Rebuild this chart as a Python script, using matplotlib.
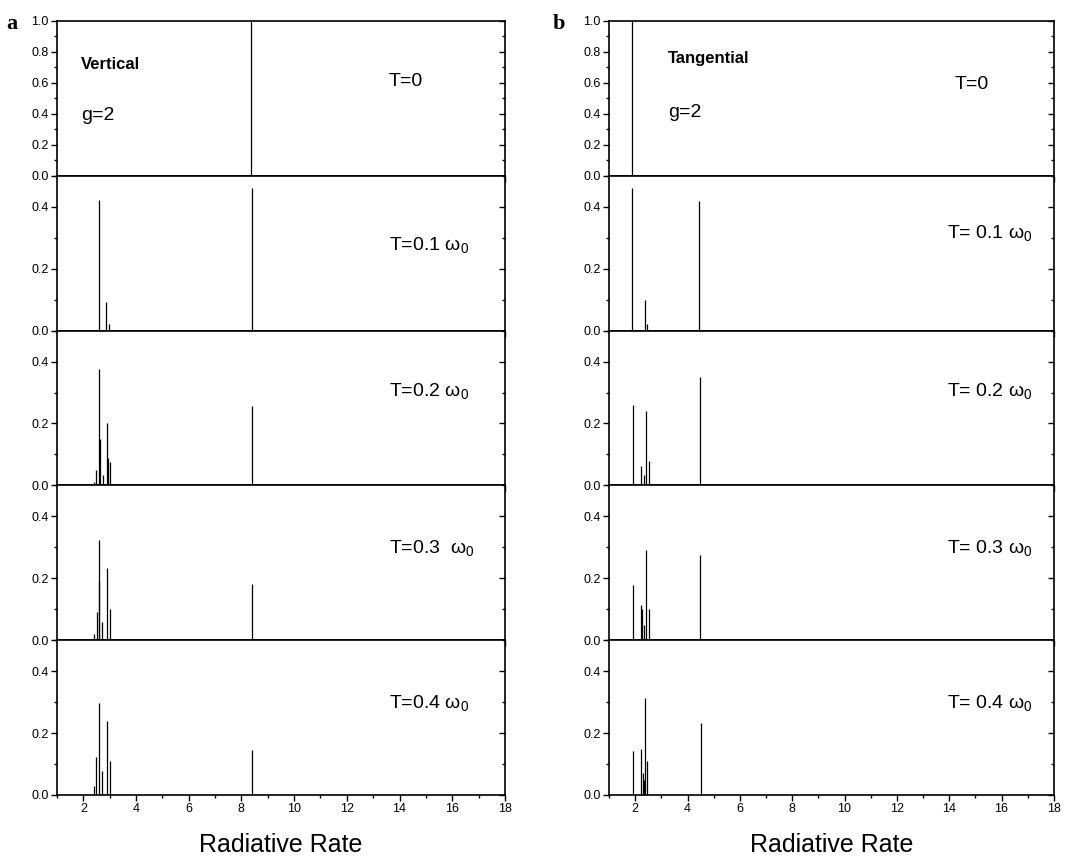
import matplotlib
matplotlib.use("Agg")
import matplotlib.pyplot as plt
from matplotlib.ticker import MultipleLocator

plt.rcParams['font.family'] = ['Liberation Sans', 'DejaVu Sans']
plt.rcParams['mathtext.fontset'] = 'custom'
plt.rcParams['mathtext.rm'] = 'Liberation Sans'
plt.rcParams['mathtext.it'] = 'Liberation Sans'

# temperature labels for each row
temps_left = ['T=0', r'T=0.1 $\omega_0$', r'T=0.2 $\omega_0$', r'T=0.3  $\omega_0$', r'T=0.4 $\omega_0$']
temps_right = ['T=0', r'T= 0.1 $\omega_0$', r'T= 0.2 $\omega_0$', r'T= 0.3 $\omega_0$', r'T= 0.4 $\omega_0$']

# (a) vertical: radiative rate positions and weights
vert_x0 = [8.38]
vert_h0 = [1.0]
vert_x1 = [2.58, 2.87, 2.97, 8.40]
vert_h1 = [0.422, 0.092, 0.02, 0.46]
vert_x2 = [2.41, 2.50, 2.58, 2.62, 2.73, 2.89, 2.93, 3.02, 8.40]
vert_h2 = [0.01, 0.05, 0.375, 0.15, 0.033, 0.203, 0.09, 0.077, 0.255]
vert_x3 = [2.39, 2.51, 2.58, 2.61, 2.70, 2.88, 3.00, 8.42]
vert_h3 = [0.02, 0.09, 0.325, 0.19, 0.06, 0.232, 0.10, 0.18]
vert_x4 = [2.42, 2.50, 2.60, 2.72, 2.88, 3.00, 8.42]
vert_h4 = [0.03, 0.123, 0.296, 0.076, 0.24, 0.109, 0.145]

# (b) tangential
tang_x0 = [1.86]
tang_h0 = [1.0]
tang_x1 = [1.86, 2.36, 2.46, 4.45]
tang_h1 = [0.46, 0.098, 0.02, 0.42]
tang_x2 = [1.90, 2.23, 2.33, 2.42, 2.53, 4.47]
tang_h2 = [0.26, 0.064, 0.032, 0.239, 0.08, 0.35]
tang_x3 = [1.92, 2.22, 2.26, 2.33, 2.42, 2.52, 4.48]
tang_h3 = [0.177, 0.115, 0.10, 0.05, 0.29, 0.10, 0.274]
tang_x4 = [1.93, 2.22, 2.28, 2.32, 2.36, 2.44, 4.50]
tang_h4 = [0.142, 0.15, 0.07, 0.05, 0.313, 0.11, 0.233]

vert_x = [vert_x0, vert_x1, vert_x2, vert_x3, vert_x4]
vert_h = [vert_h0, vert_h1, vert_h2, vert_h3, vert_h4]
tang_x = [tang_x0, tang_x1, tang_x2, tang_x3, tang_x4]
tang_h = [tang_h0, tang_h1, tang_h2, tang_h3, tang_h4]

fig = plt.figure(figsize=(10.85, 8.63), dpi=100)

bottom = 0.0788
top = 0.9757
row_h = (top - bottom) / 5


def make_column(left, width, xs, hs, temps, name, t_xy, name_xy, g_xy, panel_letter, letter_x):
    for i in range(5):
        y0 = top - (i + 1) * row_h
        ax = fig.add_axes([left, y0, width, row_h])
        ax.vlines(xs[i], 0, hs[i], colors='black', lw=0.9)
        ax.set_xlim(1, 18)
        if i == 0:
            ax.set_ylim(0, 1.0)
            ax.yaxis.set_major_locator(MultipleLocator(0.2))
            ax.yaxis.set_minor_locator(MultipleLocator(0.1))
        else:
            ax.set_ylim(0, 0.5)
            ax.set_yticks([0.0, 0.2, 0.4])
            ax.yaxis.set_minor_locator(MultipleLocator(0.1))
        ax.yaxis.set_major_formatter(plt.FormatStrFormatter('%.1f'))
        ax.xaxis.set_major_locator(MultipleLocator(2))
        ax.xaxis.set_minor_locator(MultipleLocator(1))
        ax.tick_params(axis='both', which='both', labelsize=9, width=1, pad=2)
        ax.tick_params(axis='both', which='major', length=4)
        ax.tick_params(axis='both', which='minor', length=2)
        ax.tick_params(axis='x', which='both', direction='out', top=False)
        ax.tick_params(axis='y', which='both', direction='out')
        ax.tick_params(axis='y', which='both', right=True)
        # right-hand ticks point inward
        for t in ax.yaxis.get_major_ticks() + ax.yaxis.get_minor_ticks():
            t.tick2line.set_marker(0)
        for sp in ax.spines.values():
            sp.set_linewidth(1.2)
        if i < 4:
            ax.tick_params(axis='x', labelbottom=False)
        else:
            ax.set_xlabel('Radiative Rate', fontsize=18, labelpad=13)
        ax.text(t_xy[i][0], t_xy[i][1], temps[i], fontsize=14)
        if i == 0:
            ax.text(name_xy[0], name_xy[1], name, fontsize=12, fontweight='bold')
            ax.text(g_xy[0], g_xy[1], 'g=2', fontsize=14)
    fig.text(letter_x, 0.972, panel_letter, fontsize=16, fontweight='bold',
             family='Liberation Serif', va='center')


left_t = [(13.6, 0.58), (13.6, 0.26), (13.6, 0.29), (13.6, 0.28), (13.6, 0.28)]
right_t = [(14.2, 0.56), (13.9, 0.30), (13.9, 0.29), (13.9, 0.28), (13.9, 0.28)]

make_column(0.0525, 0.4129, vert_x, vert_h, temps_left, 'Vertical',
            left_t, (1.9, 0.69), (1.9, 0.36), 'a', 0.006)
make_column(0.5613, 0.4100, tang_x, tang_h, temps_right, 'Tangential',
            right_t, (3.25, 0.73), (3.25, 0.38), 'b', 0.509)

fig.savefig('out.png', dpi=100)
